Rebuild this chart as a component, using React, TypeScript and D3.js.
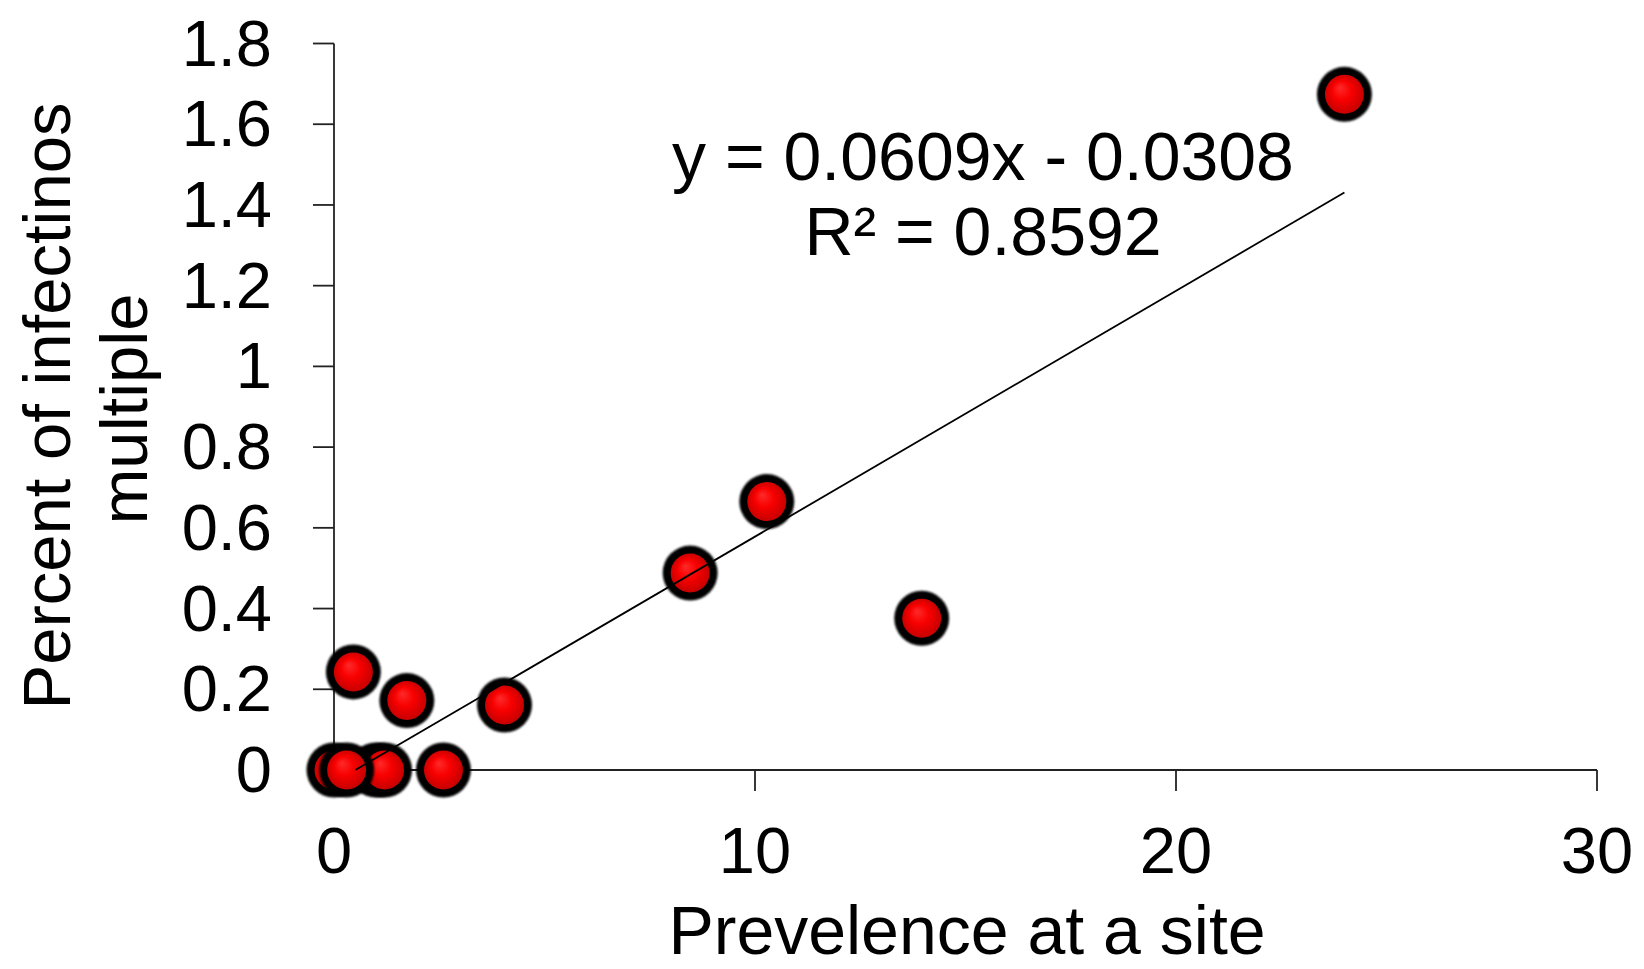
import React from 'react';
import * as d3 from 'd3';

// prevalence (x) vs percent multiple infections (y)
const prevalence = [0, 1.0, 1.2, 2.6, 0.3, 0.46, 1.73, 4.05, 8.46, 10.28, 13.96, 24.0];
const multiple = [0, 0, 0, 0, 0, 0.243, 0.172, 0.161, 0.488, 0.665, 0.376, 1.674];

const xTicks = [0, 10, 20, 30];
const yTicks = [0, 0.2, 0.4, 0.6, 0.8, 1, 1.2, 1.4, 1.6, 1.8];
const yTickLabels = ['0', '0.2', '0.4', '0.6', '0.8', '1', '1.2', '1.4', '1.6', '1.8'];

const slope = 0.0609;
const intercept = -0.0308;
const equationLines = ['y = 0.0609x - 0.0308', 'R² = 0.8592'];

const yTitle = ['Percent of infectinos', 'multiple'];
const xTitle = 'Prevelence at a site';

const width = 1644;
const height = 969;
const font = '"Liberation Sans", Arial, sans-serif';

const x = d3.scaleLinear().domain([0, 30]).range([334, 1597]);
const y = d3.scaleLinear().domain([0, 1.8]).range([770, 43.5]);

const App = () => {
  const points = prevalence.map((p, i) => ({ px: p, py: multiple[i] }));
  const xMax = d3.max(prevalence) as number;
  const xStart = Math.max(d3.min(prevalence) as number, -intercept / slope);
  const trend = d3.line<number>()
    .x(d => x(d))
    .y(d => y(slope * d + intercept))([xStart, xMax]);

  return (
    <div style={{ position: 'absolute', left: 0, top: 0 }}>
      <svg width={width} height={height} style={{ display: 'block', background: '#fff' }}>
        <defs>
          <radialGradient id="ball" cx="50%" cy="50%" r="55%" fx="38%" fy="32%">
            <stop offset="0%" stopColor="#ff2a2a" />
            <stop offset="45%" stopColor="#f80000" />
            <stop offset="100%" stopColor="#c00000" />
          </radialGradient>
          <filter id="soft" x="-30%" y="-30%" width="160%" height="160%">
            <feGaussianBlur stdDeviation="1.2" />
          </filter>
        </defs>

        {/* axes */}
        <g stroke="#222" strokeWidth={1.8} fill="none">
          <line x1={x(0)} x2={x(0)} y1={y(1.8)} y2={y(0)} />
          <line x1={x(0)} x2={x(30)} y1={y(0)} y2={y(0)} />
          {yTicks.map(t => (
            <line key={'yt' + t} x1={x(0) - 21} x2={x(0)} y1={y(t)} y2={y(t)} />
          ))}
          {xTicks.map(t => (
            <line key={'xt' + t} x1={x(t)} x2={x(t)} y1={y(0)} y2={y(0) + 21} />
          ))}
        </g>

        <g fontFamily={font} fontSize={65} fill="#000">
          {yTicks.map((t, i) => (
            <text key={'yl' + t} x={272} y={y(t)} dy="0.34em" textAnchor="end">{yTickLabels[i]}</text>
          ))}
          {xTicks.map(t => (
            <text key={'xl' + t} x={x(t)} y={873} textAnchor="middle">{t}</text>
          ))}
        </g>

        {/* markers */}
        <g>
          {points.map((d, i) => (
            <g key={i} transform={`translate(${x(d.px)},${y(d.py)})`}>
              <circle r={27.5} fill="#050505" filter="url(#soft)" />
              <circle r={19.5} fill="url(#ball)" />
            </g>
          ))}
        </g>

        {/* trendline drawn over the markers */}
        <path d={trend || ''} stroke="#000" strokeWidth={1.8} fill="none" />

        <g fontFamily={font} fontSize={68} fill="#000" textAnchor="middle">
          <text x={983} y={180}>{equationLines[0]}</text>
          <text x={983} y={255}>{equationLines[1]}</text>
        </g>

        <g fontFamily={font} fontSize={67} fill="#000" textAnchor="middle">
          <text transform="translate(70,406) rotate(-90)">{yTitle[0]}</text>
          <text transform="translate(147,409) rotate(-90)">{yTitle[1]}</text>
        </g>
        <text x={967} y={954} fontFamily={font} fontSize={68} textAnchor="middle">{xTitle}</text>
      </svg>
    </div>
  );
};

export default App;
